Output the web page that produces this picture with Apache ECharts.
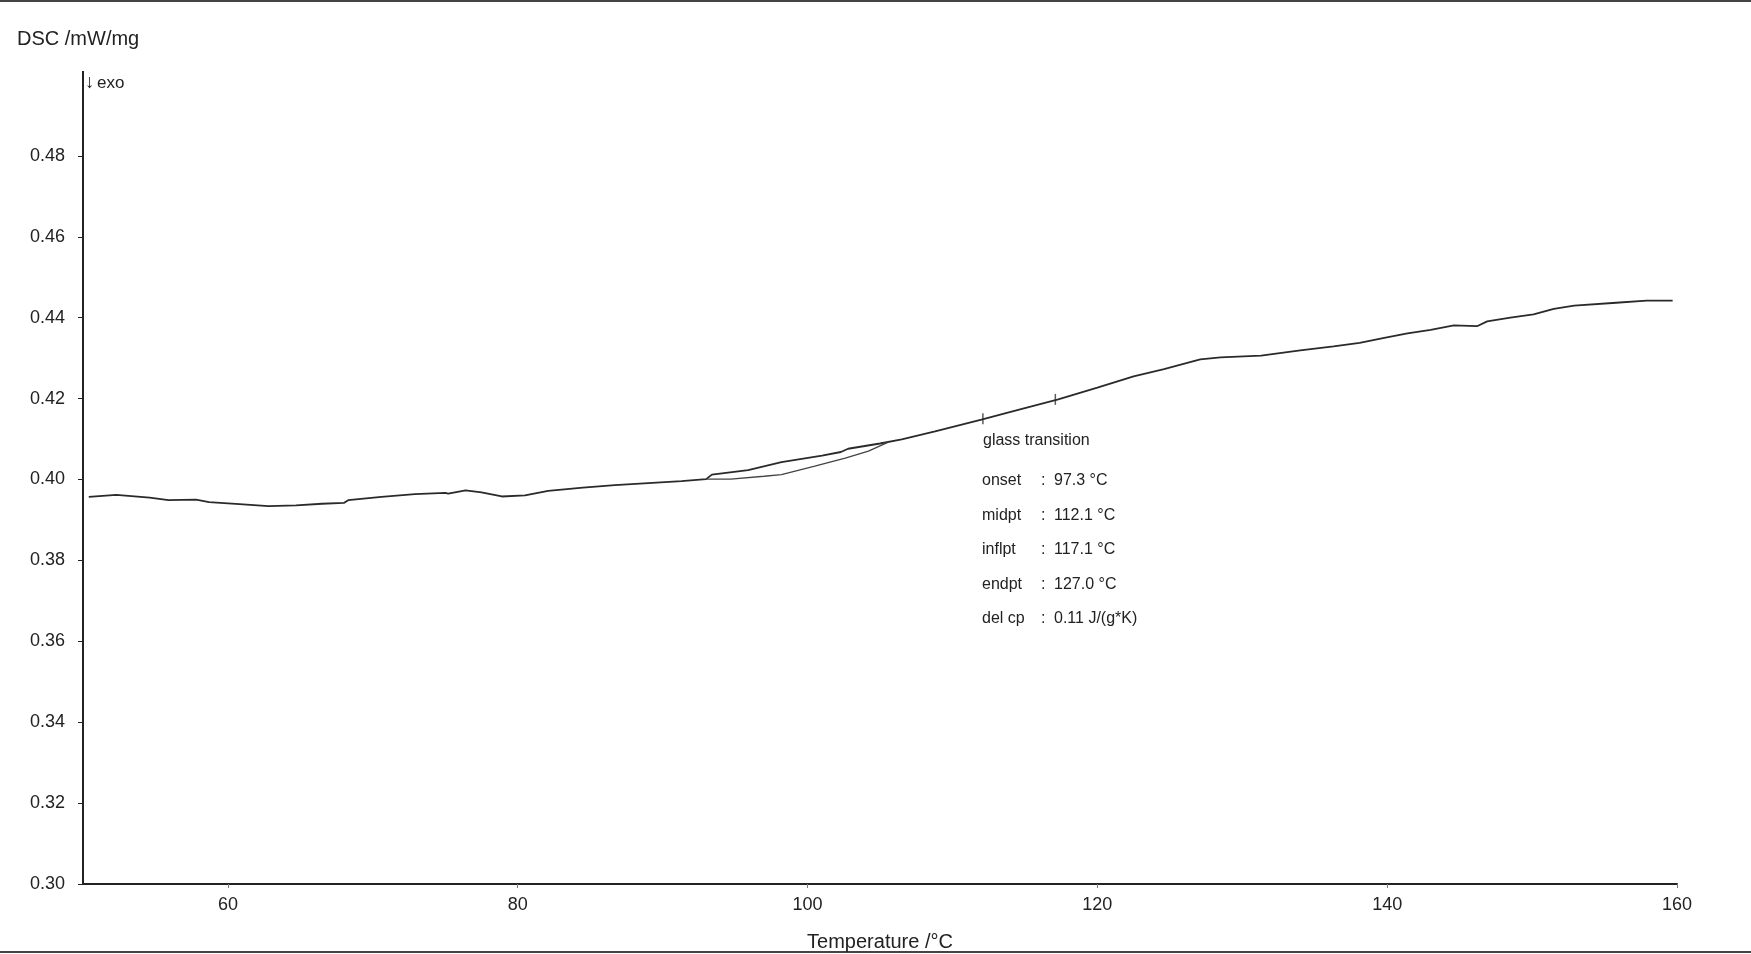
<!DOCTYPE html>
<html>
<head>
<meta charset="utf-8">
<title>DSC</title>
<script src="https://cdn.jsdelivr.net/npm/echarts@6/dist/echarts.min.js"></script>
<style>
  html, body { margin: 0; padding: 0; background: #fff; overflow: hidden; }
  #chart { width: 1751px; height: 954px; }
</style>
</head>
<body>
<div id="chart"></div>
<script>
  // measured curve, temperature in °C and DSC in mW/mg
  var tempC = [50.4, 52.3, 54.6, 55.9, 57.8, 58.7, 60.8, 62.8, 64.7, 66.5, 68.0, 68.3, 70.6, 72.9, 75.0, 75.2,
    76.4, 77.5, 78.9, 80.5, 82.1, 84.5, 86.7, 89.0, 91.3, 93.0, 93.4, 95.9, 98.2, 101.0, 102.3, 102.8, 105.0,
    106.5, 108.8, 112.0, 114.6, 117.3, 120.0, 122.5, 124.6, 127.1, 128.5, 131.3, 134.0, 136.3, 138.1, 139.8,
    141.4, 143.0, 144.6, 146.2, 146.9, 148.5, 150.1, 151.5, 152.9, 155.8, 157.9, 159.7]
  var dsc = [0.3957, 0.3962, 0.3955, 0.3949, 0.3950, 0.3944, 0.3939, 0.3934, 0.3936, 0.3940, 0.3942, 0.3949,
    0.3957, 0.3964, 0.3967, 0.3965, 0.3973, 0.3968, 0.3958, 0.3961, 0.3972, 0.3980, 0.3986, 0.3991, 0.3996,
    0.4001, 0.4012, 0.4023, 0.4043, 0.4059, 0.4068, 0.4076, 0.4089, 0.4099, 0.4119, 0.4148, 0.4173, 0.4198,
    0.4227, 0.4255, 0.4273, 0.4297, 0.4302, 0.4306, 0.4319, 0.4329, 0.4338, 0.4350, 0.4361, 0.4370, 0.4381,
    0.4379, 0.4391, 0.4400, 0.4408, 0.4422, 0.4430, 0.4437, 0.4442, 0.4442]

  // construction line under the step (onset region)
  var tangentT = [93.0, 94.7, 97.0, 98.2, 100.5, 102.6, 104.2, 105.5]
  var tangentDsc = [0.4001, 0.4001, 0.4008, 0.4012, 0.4033, 0.4053, 0.4070, 0.4091]

  // midpoint / inflection markers on the curve
  var markT = [112.1, 117.1]
  var markDsc = [0.4150, 0.4198]

  // tick labels
  var xTicks = [60, 80, 100, 120, 140, 160]
  var yTicks = [0.30, 0.32, 0.34, 0.36, 0.38, 0.40, 0.42, 0.44, 0.46, 0.48]

  // glass transition result box
  var gtNames = ['onset', 'midpt', 'inflpt', 'endpt', 'del cp']
  var gtValues = ['97.3 °C', '112.1 °C', '117.1 °C', '127.0 °C', '0.11 J/(g*K)']

  function zip(a, b) {
    var out = []
    for (var i = 0; i < a.length; i++) out.push([a[i], b[i]])
    return out
  }

  var chart = echarts.init(document.getElementById('chart'))
  var txtFont = 'Liberation Sans, Arial, sans-serif'
  var ink = '#222'

  var graphics = [
    // scan frame lines
    { type: 'line', shape: { x1: 0, y1: 1, x2: 1751, y2: 1 }, style: { stroke: '#444', lineWidth: 2 } },
    { type: 'line', shape: { x1: 0, y1: 952, x2: 1751, y2: 952 }, style: { stroke: '#444', lineWidth: 2 } },
    // axis line runs a little above the 0.50 end in the original
    { type: 'line', shape: { x1: 83, y1: 71, x2: 83, y2: 76 }, style: { stroke: ink, lineWidth: 2 } },
    { type: 'text', left: 85, top: 73, style: { text: '↓', font: '19px ' + txtFont, fill: ink } },
    { type: 'text', left: 97, top: 75, style: { text: 'exo', font: '17px ' + txtFont, fill: ink } },
    { type: 'text', left: 983, top: 433, style: { text: 'glass transition', font: '16px ' + txtFont, fill: ink } }
  ]
  for (var i = 0; i < gtNames.length; i++) {
    var y = 473 + i * 34.5
    graphics.push({ type: 'text', left: 982, top: y, style: { text: gtNames[i], font: '16px ' + txtFont, fill: ink } })
    graphics.push({ type: 'text', left: 1041, top: y, style: { text: ':', font: '16px ' + txtFont, fill: ink } })
    graphics.push({ type: 'text', left: 1054, top: y, style: { text: gtValues[i], font: '16px ' + txtFont, fill: ink } })
  }

  chart.setOption({
    backgroundColor: '#fff',
    animation: false,
    grid: {
      left: 83,
      right: 74,
      top: 75,
      bottom: 70,
      outerBoundsMode: 'none'
    },
    title: {
      text: 'DSC /mW/mg',
      left: 12,
      top: 24,
      textStyle: { fontFamily: txtFont, fontSize: 20, fontWeight: 'normal', color: ink }
    },
    xAxis: {
      type: 'value',
      min: 50,
      max: 160,
      name: 'Temperature /°C',
      nameLocation: 'middle',
      nameGap: 48,
      nameTextStyle: { fontFamily: txtFont, fontSize: 20, color: ink },
      splitLine: { show: false },
      axisLine: { lineStyle: { color: ink, width: 2 } },
      axisTick: { customValues: xTicks, length: 4, lineStyle: { color: '#777' } },
      axisLabel: {
        customValues: xTicks,
        margin: 12,
        fontFamily: txtFont,
        fontSize: 18,
        color: ink
      }
    },
    yAxis: {
      type: 'value',
      min: 0.30,
      max: 0.50,
      splitLine: { show: false },
      axisLine: { show: true, lineStyle: { color: ink, width: 2 } },
      axisTick: { show: true, customValues: yTicks, length: 5, lineStyle: { color: ink } },
      axisLabel: {
        customValues: yTicks,
        margin: 18,
        fontFamily: txtFont,
        fontSize: 18,
        color: ink,
        formatter: function (v) { return v.toFixed(2) }
      }
    },
    graphic: graphics,
    series: [
      {
        name: 'DSC',
        type: 'line',
        data: zip(tempC, dsc),
        showSymbol: false,
        smooth: false,
        lineStyle: { color: '#2a2a2a', width: 1.8 }
      },
      {
        name: 'tangent',
        type: 'line',
        data: zip(tangentT, tangentDsc),
        showSymbol: false,
        lineStyle: { color: '#444', width: 1.4 }
      },
      {
        name: 'marks',
        type: 'scatter',
        data: zip(markT, markDsc),
        symbol: 'rect',
        symbolSize: [1.5, 11],
        itemStyle: { color: '#333' }
      }
    ]
  })
</script>
</body>
</html>
